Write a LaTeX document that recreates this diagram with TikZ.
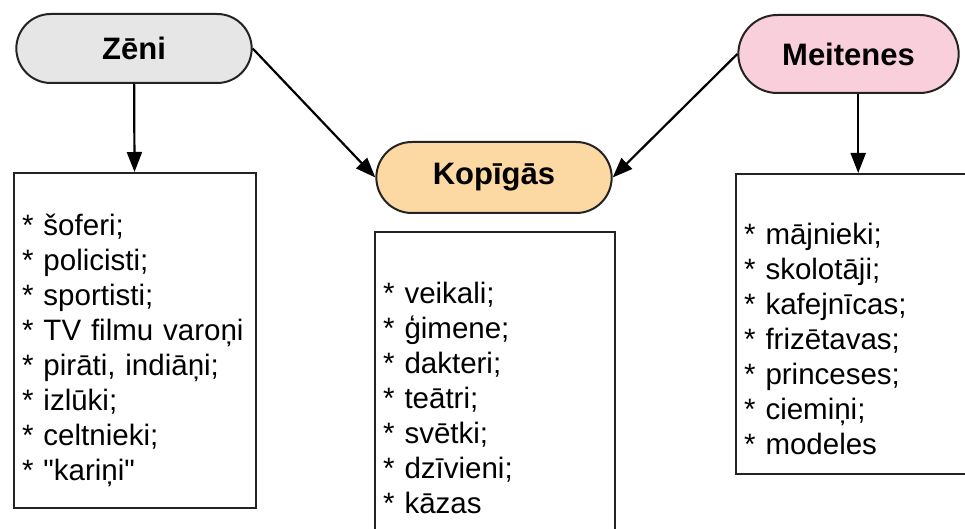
\documentclass[tikz,border=0pt]{standalone}
\usepackage{fontspec}
\setmainfont{Liberation Sans}
\usetikzlibrary{positioning,calc,shapes.misc,arrows.meta}
\definecolor{zgray}{RGB}{230,230,230}
\definecolor{korange}{RGB}{252,216,162}
\definecolor{mpink}{RGB}{249,207,220}
\definecolor{edge}{RGB}{35,35,35}
\tikzset{
  pill/.style={rounded rectangle, draw=edge, line width=2pt,
    font=\fontsize{31}{37}\selectfont\bfseries},
  listbox/.style={draw=edge, line width=2.4pt, anchor=north west, align=left,
    inner xsep=8pt, inner ysep=0pt, font=\fontsize{29.5}{35}\selectfont},
  arr/.style={-{Triangle[length=20pt,width=15pt]}, line width=2.2pt}
}
\newcommand{\pnode}[4]{\node [pill, #3] (#1) at (#2) {#4}}
\newcommand{\topgap}[1]{\rule{0pt}{#1}}

\begin{document}
\begin{tikzpicture}[x=1pt,y=-1pt]
\useasboundingbox (0,0) rectangle (965,529);
\clip (0,0) rectangle (965,529);

\pnode{ZEN}{134,48.5}{fill=zgray, minimum width=242pt, minimum height=69pt}{Zēni};
\pnode{KOP}{494,177.5}{fill=korange, minimum width=242pt, minimum height=71pt}{Kopīgās};
\pnode{MEI}{848.5,54}{fill=mpink, minimum width=227pt, minimum height=78pt}{Meitenes};

% lists
\node [listbox, text width=226pt, minimum height=335pt] (ZENL) at (13,172)
  {\topgap{40pt}{*} šoferi;\\ {*} policisti;\\ {*} sportisti;\\ {*} TV filmu varoņi\\
   {*} pirāti, indiāņi;\\ {*} izlūki;\\ {*} celtnieki;\\ {*} \textquotedbl kariņi\textquotedbl};
\node [listbox, text width=224pt, minimum height=303pt] (KOPL) at (374,231)
  {\topgap{14pt}\\ {*} veikali;\\ {*} ģimene;\\ {*} dakteri;\\ {*} teātri;\\
   {*} svētki;\\ {*} dzīvieni;\\ {*} kāzas};
\node [listbox, text width=228pt, minimum height=300pt] (MEIL) at (735,173)
  {\topgap{16pt}\\ {*} mājnieki;\\ {*} skolotāji;\\ {*} kafejnīcas;\\ {*} frizētavas;\\
   {*} princeses;\\ {*} ciemiņi;\\ {*} modeles};

\draw[arr] (ZEN) -- (ZENL);
\draw[arr] (MEI.south -| MEIL.north) -- (MEIL.north);
\draw[arr] (ZEN.east) -- (KOP.west);
\draw[arr] (MEI.west) -- (KOP.east);

\end{tikzpicture}
\end{document}
